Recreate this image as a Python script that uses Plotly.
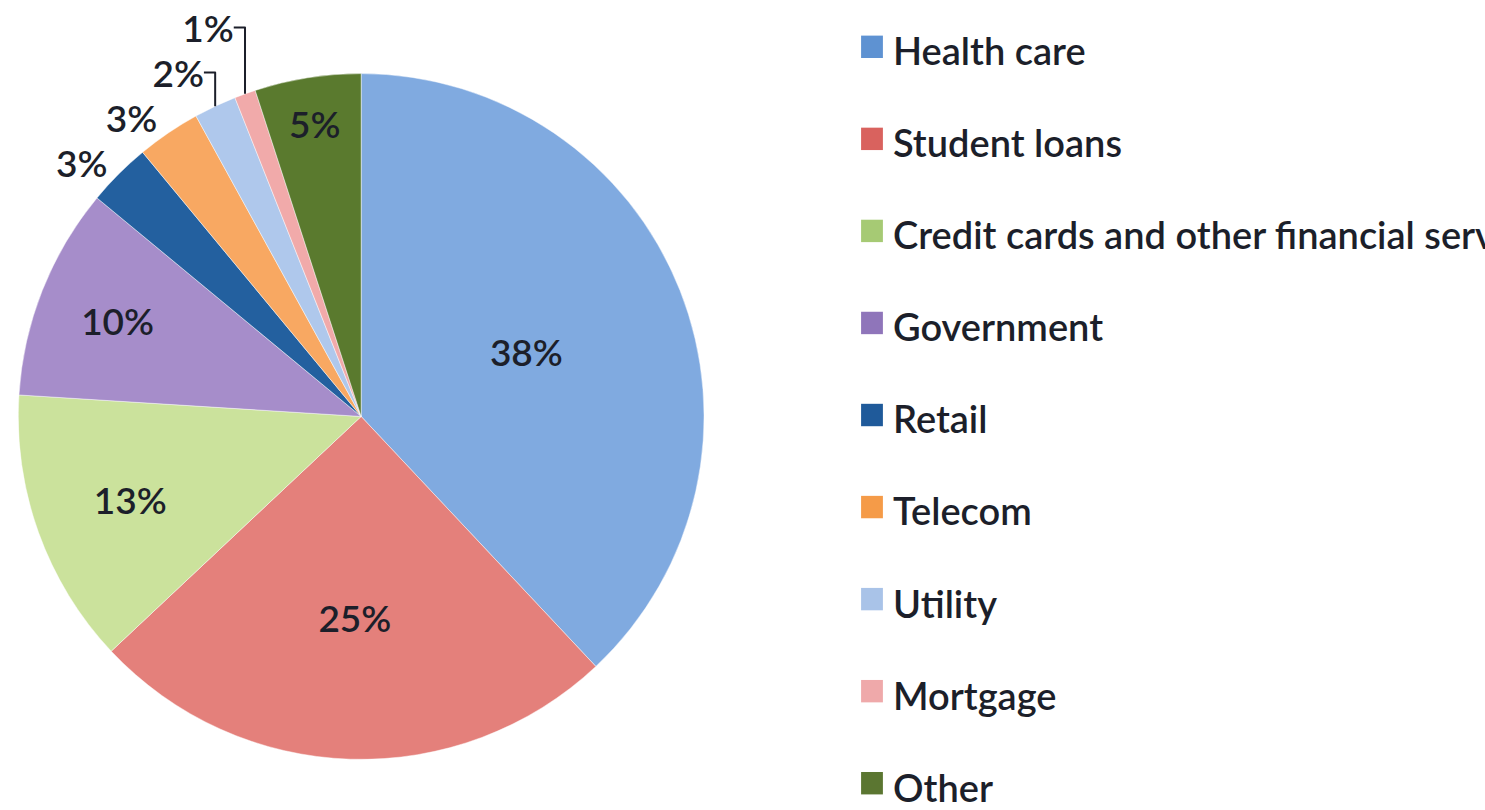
import plotly.graph_objects as go

# Complaint categories and their shares (%)
categories = [
    "Health care",
    "Student loans",
    "Credit cards and other financial services",
    "Government",
    "Retail",
    "Telecom",
    "Utility",
    "Mortgage",
    "Other",
]
shares = [38, 25, 13, 10, 3, 3, 2, 1, 5]

slice_colors = [
    "#80AAE0", "#E4807B", "#CBE29C", "#A68DCA", "#23609F",
    "#F8A862", "#AFC8EC", "#F1AAAA", "#5A7A2E",
]
legend_colors = [
    "#5E92D2", "#D9625E", "#A6CA74", "#8F75BA", "#1F5A9A",
    "#F59B48", "#A9C3E8", "#EFA9AA", "#5B7631",
]
label_positions = [
    "inside", "inside", "inside", "inside", "outside",
    "outside", "outside", "outside", "inside",
]

W, H = 1485, 810
FONT = "Lato, 'Open Sans', sans-serif"
TEXT_COLOR = "#1C1F2A"

# pie placement (pixels)
cx, cy, r = 352, 406, 352

fig = go.Figure()
fig.add_trace(go.Pie(
    labels=categories,
    values=shares,
    sort=False,
    direction="clockwise",
    rotation=0,
    marker=dict(colors=slice_colors, line=dict(color="rgba(255,255,255,0.45)", width=1)),
    texttemplate="%{value}%",
    textposition=label_positions,
    insidetextorientation="horizontal",
    textfont=dict(family=FONT, size=37, color=TEXT_COLOR, weight=600),
    outsidetextfont=dict(family=FONT, size=37, color=TEXT_COLOR, weight=600),
    insidetextfont=dict(family=FONT, size=37, color=TEXT_COLOR, weight=600),
    showlegend=False,
    hoverinfo="label+percent",
    domain=dict(
        x=[(cx - r) / W, (cx + r) / W],
        y=[(H - cy - r) / H, (H - cy + r) / H],
    ),
))

# Legend drawn on the right: colour square plus category name per row
first_row, row_step = 30, 94.5
shapes, annotations = [], []
for i, (name, col) in enumerate(zip(categories, legend_colors)):
    yc = first_row + i * row_step
    shapes.append(dict(
        type="rect", xref="paper", yref="paper",
        x0=856 / W, x1=878 / W,
        y0=1 - (yc + 8) / H, y1=1 - (yc - 15) / H,
        fillcolor=col, line=dict(width=0),
    ))
    annotations.append(dict(
        text=name, xref="paper", yref="paper",
        x=886 / W, y=1 - yc / H, xanchor="left", yanchor="middle",
        showarrow=False, align="left",
        font=dict(family=FONT, size=38, color=TEXT_COLOR, weight=600),
    ))

fig.update_layout(
    width=W, height=H,
    margin=dict(l=0, r=0, t=0, b=0),
    paper_bgcolor="white",
    plot_bgcolor="white",
    shapes=shapes,
    annotations=annotations,
)

# the page body gets no default margin so the figure fills the window exactly
fig.write_html("out.html", post_script="document.body.style.margin='0px';")
